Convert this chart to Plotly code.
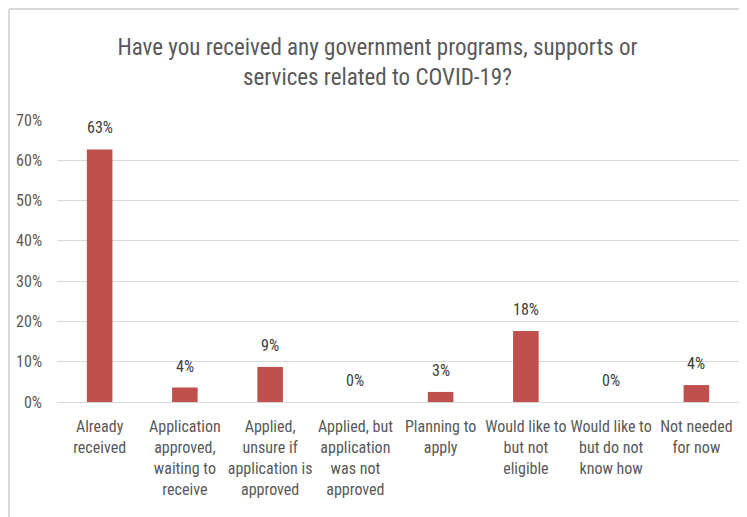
import plotly.graph_objects as go

categories = [
    "Already<br>received",
    "Application<br>approved,<br>waiting to<br>receive",
    "Applied,<br>unsure if<br>application is<br>approved",
    "Applied, but<br>application<br>was not<br>approved",
    "Planning to<br>apply",
    "Would like to<br>but not<br>eligible",
    "Would like to<br>but do not<br>know how",
    "Not needed<br>for now",
]
values = [0.627, 0.036, 0.087, 0.0, 0.025, 0.176, 0.0, 0.042]
labels = ["63%", "4%", "9%", "0%", "3%", "18%", "0%", "4%"]
y_ticks = [0, 0.1, 0.2, 0.3, 0.4, 0.5, 0.6, 0.7]
title_text = "Have you received any government programs, supports or<br>services related to COVID-19?"

FONT = "Liberation Sans Narrow, Arial Narrow, Roboto Condensed, sans-serif"
GREY = "#595959"

W, H = 739, 509
L, R, T, B = 49, 8, 112, 115
PW, PH = W - L - R, H - T - B

fig = go.Figure()
fig.add_trace(go.Bar(
    x=list(range(len(categories))),
    y=values,
    width=0.3,
    marker=dict(color="#C0504D", line=dict(width=0)),
    hoverinfo="skip",
))

for i, (v, t) in enumerate(zip(values, labels)):
    fig.add_annotation(x=i, y=v, text=t, showarrow=False, yanchor="bottom",
                       yshift=10, font=dict(family=FONT, size=16, color="#404040"))

fig.update_layout(
    width=W, height=H,
    margin=dict(l=L, r=R, t=T, b=B),
    paper_bgcolor="white", plot_bgcolor="white",
    showlegend=False,
    font=dict(family=FONT, color=GREY),
    title=dict(text=title_text, x=0.5, xanchor="center", y=0.9084, yanchor="top",
               font=dict(family=FONT, size=23, color=GREY)),
)
fig.update_xaxes(
    tickmode="array", tickvals=list(range(len(categories))), ticktext=categories,
    range=[-0.5, len(categories) - 0.5],
    showgrid=False, zeroline=False, showline=True, linecolor="#d9d9d9", linewidth=1,
    ticks="", tickfont=dict(family=FONT, size=16, color=GREY), tickangle=0,
    ticklabelstandoff=10,
)
fig.update_yaxes(
    range=[0, 0.7], tickvals=y_ticks, tickformat=".0%",
    showgrid=True, gridcolor="#d9d9d9", gridwidth=1, zeroline=False, showline=False,
    ticks="", tickfont=dict(family=FONT, size=16, color=GREY), ticklabelstandoff=14,
)

# chart border (cropped frame) on left and top
bx = (1 - L) / PW
by = (H - B - 1) / PH
fig.add_shape(type="line", xref="paper", yref="paper", x0=bx, x1=1.05, y0=by, y1=by,
              line=dict(color="#d9d9d9", width=2))
fig.add_shape(type="line", xref="paper", yref="paper", x0=bx, x1=bx, y0=-0.5, y1=by,
              line=dict(color="#d9d9d9", width=2))

fig.write_html("out.html")
